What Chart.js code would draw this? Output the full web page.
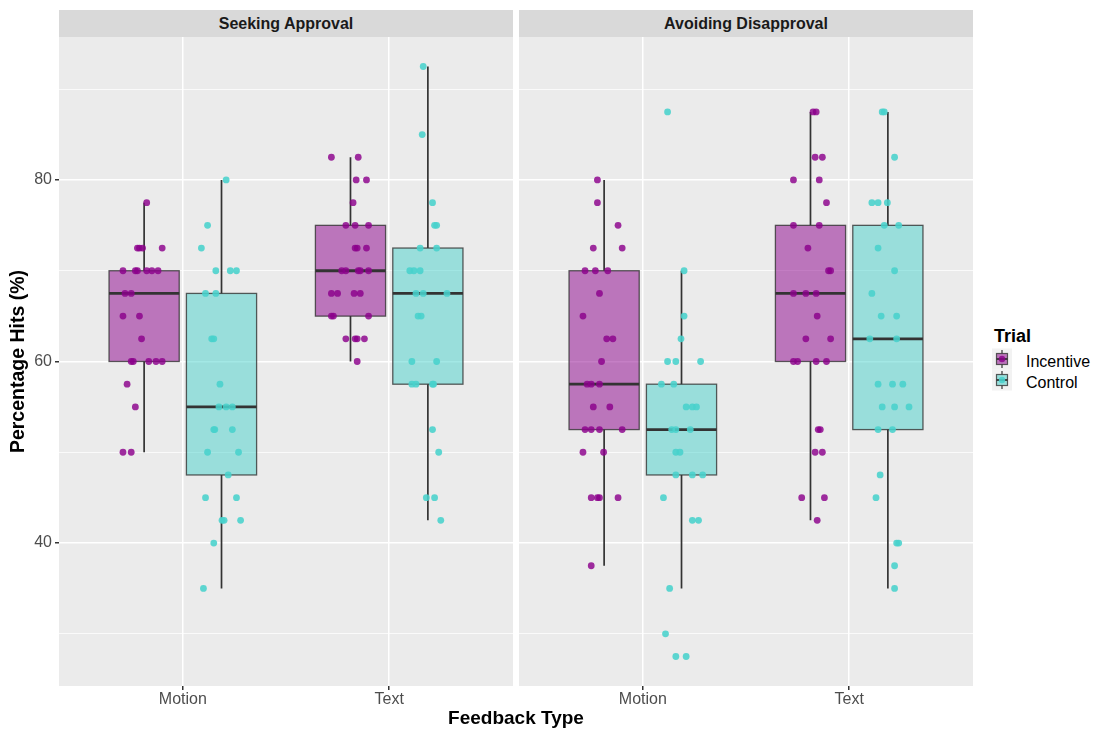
<!DOCTYPE html>
<html>
<head>
<meta charset="utf-8">
<title>Percentage Hits by Feedback Type</title>
<script src="https://cdn.jsdelivr.net/npm/chart.js@4.4.1/dist/chart.umd.min.js"></script>
<style>
  body { margin: 0; background: #fff; font-family: "Liberation Sans", Arial, sans-serif; }
  #wrap { position: relative; width: 1096px; height: 732px; overflow: hidden; }
  #wrap canvas { position: absolute; top: 0; }
  .strip { position: absolute; top: 10px; height: 27px; line-height: 27px; width: 454px;
           background: #D9D9D9; color: #1A1A1A; font-weight: bold; font-size: 16px; text-align: center; }
  .xtitle { position: absolute; left: 59px; width: 914px; top: 706px; height: 24px; line-height: 24px;
            text-align: center; font-weight: bold; font-size: 19px; color: #000; }
  .legend-title { position: absolute; left: 994px; top: 324px; height: 24px; line-height: 24px;
                  font-weight: bold; font-size: 18px; color: #000; }
  .legend-item { position: absolute; left: 1026px; height: 20px; line-height: 20px; font-size: 16px; color: #000; }
</style>
</head>
<body>
<div id="wrap">
  <div class="strip" id="strip0" style="left:59px"></div>
  <div class="strip" id="strip1" style="left:519px"></div>
  <canvas id="panelSeek" width="513" height="732" style="left:0"></canvas>
  <canvas id="panelAvoid" width="454" height="732" style="left:519px"></canvas>
  <div class="xtitle">Feedback Type</div>
  <div class="legend-title">Trial</div>
  <canvas id="legendKeys" width="30" height="60" style="left:989px; top:340px"></canvas>
  <div class="legend-item" id="leg0" style="top:352px"></div>
  <div class="legend-item" id="leg1" style="top:373px"></div>
</div>
<script>
const categories = ['Motion', 'Text'];
const panels = ['Seeking Approval', 'Avoiding Disapproval'];
const trials = ['Incentive', 'Control'];
const yMajorTicks = [40, 60, 80];
const yMinorTicks = [30, 50, 70, 90];
const yRange = [24.25, 95.75];

// box stats: [lower whisker, Q1, median, Q3, upper whisker]
const boxSeekMotionInc = [50, 60, 67.5, 70, 77.5];
const boxSeekMotionCtl = [35, 47.5, 55, 67.5, 80];
const boxSeekTextInc = [60, 65, 70, 75, 82.5];
const boxSeekTextCtl = [42.5, 57.5, 67.5, 72.5, 92.5];
const boxAvoidMotionInc = [37.5, 52.5, 57.5, 70, 80];
const boxAvoidMotionCtl = [35, 47.5, 52.5, 57.5, 70];
const boxAvoidTextInc = [42.5, 60, 67.5, 75, 87.5];
const boxAvoidTextCtl = [35, 52.5, 62.5, 75, 87.5];

// individual hit percentages
const hitsSeekMotionInc = [77.5, 72.5, 72.5, 72.5, 72.5, 70, 70, 70, 70, 70, 70, 67.5, 67.5, 65, 65, 62.5, 60, 60, 60, 60, 60, 57.5, 55, 50, 50];
const hitsSeekMotionCtl = [80, 75, 72.5, 70, 70, 70, 67.5, 67.5, 62.5, 62.5, 57.5, 55, 55, 55, 52.5, 52.5, 52.5, 50, 50, 47.5, 45, 45, 42.5, 42.5, 42.5, 40, 35];
const hitsSeekTextInc = [82.5, 82.5, 80, 80, 77.5, 75, 75, 75, 72.5, 72.5, 72.5, 70, 70, 70, 70, 70, 67.5, 67.5, 67.5, 67.5, 65, 65, 65, 62.5, 62.5, 62.5, 62.5, 60];
const hitsSeekTextCtl = [92.5, 85, 77.5, 75, 75, 72.5, 72.5, 70, 70, 70, 67.5, 67.5, 67.5, 65, 65, 60, 60, 57.5, 57.5, 57.5, 57.5, 52.5, 50, 45, 45, 42.5];
const hitsAvoidMotionInc = [80, 77.5, 75, 72.5, 72.5, 70, 70, 70, 67.5, 65, 62.5, 62.5, 60, 57.5, 57.5, 57.5, 55, 55, 52.5, 52.5, 52.5, 52.5, 50, 50, 45, 45, 45, 45, 37.5];
const hitsAvoidMotionCtl = [87.5, 70, 65, 62.5, 60, 60, 60, 57.5, 57.5, 55, 55, 55, 52.5, 52.5, 52.5, 50, 50, 47.5, 47.5, 47.5, 45, 42.5, 42.5, 35, 30, 27.5, 27.5];
const hitsAvoidTextInc = [87.5, 87.5, 82.5, 82.5, 80, 80, 77.5, 75, 75, 72.5, 70, 70, 67.5, 67.5, 67.5, 65, 62.5, 62.5, 60, 60, 60, 60, 52.5, 52.5, 50, 50, 45, 45, 42.5];
const hitsAvoidTextCtl = [87.5, 87.5, 82.5, 77.5, 77.5, 77.5, 75, 75, 72.5, 70, 67.5, 65, 65, 62.5, 62.5, 57.5, 57.5, 57.5, 55, 55, 55, 52.5, 52.5, 47.5, 45, 40, 40, 37.5, 35];

// horizontal jitter of each point (category units, from the category centre)
const jitSeekMotionInc = [-0.175, -0.22, -0.21, -0.195, -0.10, -0.29, -0.23, -0.22, -0.175, -0.15, -0.12, -0.28, -0.25, -0.29, -0.21, -0.20, -0.25, -0.24, -0.165, -0.13, -0.10, -0.27, -0.23, -0.29, -0.25];
const jitSeekMotionCtl = [0.21, 0.12, 0.09, 0.16, 0.23, 0.26, 0.11, 0.16, 0.14, 0.15, 0.18, 0.175, 0.21, 0.24, 0.15, 0.155, 0.24, 0.12, 0.27, 0.22, 0.11, 0.26, 0.19, 0.20, 0.28, 0.15, 0.10];
const jitSeekTextInc = [-0.28, -0.15, -0.16, -0.11, -0.175, -0.21, -0.165, -0.10, -0.165, -0.155, -0.11, -0.23, -0.21, -0.15, -0.14, -0.10, -0.28, -0.25, -0.17, -0.14, -0.28, -0.27, -0.10, -0.21, -0.165, -0.155, -0.12, -0.155];
const jitSeekTextCtl = [0.165, 0.16, 0.21, 0.22, 0.23, 0.15, 0.23, 0.10, 0.12, 0.15, 0.13, 0.165, 0.28, 0.14, 0.155, 0.11, 0.23, 0.11, 0.13, 0.21, 0.215, 0.21, 0.24, 0.18, 0.22, 0.25];
const jitAvoidMotionInc = [-0.22, -0.22, -0.12, -0.24, -0.10, -0.28, -0.23, -0.17, -0.21, -0.29, -0.175, -0.145, -0.20, -0.27, -0.25, -0.21, -0.24, -0.16, -0.28, -0.25, -0.21, -0.10, -0.29, -0.19, -0.25, -0.22, -0.21, -0.12, -0.25];
const jitAvoidMotionCtl = [0.12, 0.20, 0.20, 0.185, 0.12, 0.16, 0.28, 0.09, 0.15, 0.21, 0.24, 0.26, 0.14, 0.16, 0.23, 0.16, 0.18, 0.16, 0.24, 0.29, 0.10, 0.24, 0.27, 0.13, 0.11, 0.16, 0.21];
const jitAvoidTextInc = [-0.175, -0.16, -0.165, -0.13, -0.27, -0.145, -0.11, -0.27, -0.145, -0.20, -0.10, -0.09, -0.27, -0.21, -0.16, -0.155, -0.21, -0.09, -0.27, -0.25, -0.16, -0.11, -0.15, -0.14, -0.165, -0.13, -0.23, -0.12, -0.155];
const jitAvoidTextCtl = [0.16, 0.17, 0.22, 0.11, 0.14, 0.185, 0.17, 0.24, 0.14, 0.22, 0.11, 0.155, 0.23, 0.10, 0.23, 0.14, 0.21, 0.26, 0.16, 0.22, 0.29, 0.14, 0.21, 0.15, 0.13, 0.23, 0.24, 0.22, 0.22];

const trialFill = ['rgba(139, 0, 139, 0.5)', 'rgba(72, 209, 204, 0.5)'];
const trialPoint = ['rgba(139, 0, 139, 0.82)', 'rgba(72, 209, 204, 0.88)'];
const DODGE = 0.1875;
const BOX_W = 0.34;

const panelGroups = [
    [
        { cat: 1, trial: 0, box: boxSeekMotionInc, hits: hitsSeekMotionInc, jit: jitSeekMotionInc },
        { cat: 1, trial: 1, box: boxSeekMotionCtl, hits: hitsSeekMotionCtl, jit: jitSeekMotionCtl },
        { cat: 2, trial: 0, box: boxSeekTextInc, hits: hitsSeekTextInc, jit: jitSeekTextInc },
        { cat: 2, trial: 1, box: boxSeekTextCtl, hits: hitsSeekTextCtl, jit: jitSeekTextCtl }
    ],
    [
        { cat: 1, trial: 0, box: boxAvoidMotionInc, hits: hitsAvoidMotionInc, jit: jitAvoidMotionInc },
        { cat: 1, trial: 1, box: boxAvoidMotionCtl, hits: hitsAvoidMotionCtl, jit: jitAvoidMotionCtl },
        { cat: 2, trial: 0, box: boxAvoidTextInc, hits: hitsAvoidTextInc, jit: jitAvoidTextInc },
        { cat: 2, trial: 1, box: boxAvoidTextCtl, hits: hitsAvoidTextCtl, jit: jitAvoidTextCtl }
    ]
];

Chart.defaults.font.family = '"Liberation Sans", Arial, sans-serif';
Chart.defaults.animation = false;

const panelBackground = {
    id: 'panelBackground',
    beforeDraw(chart) {
        const { ctx, chartArea: a } = chart;
        ctx.save();
        ctx.fillStyle = '#EBEBEB';
        ctx.fillRect(a.left, a.top, a.right - a.left, a.bottom - a.top);
        ctx.restore();
    }
};

// boxes + whiskers, drawn under the jittered points
function makeBoxPlugin(groups) {
    return {
        id: 'boxPlot',
        beforeDatasetsDraw(chart) {
            const { ctx, scales: { x, y } } = chart;
            ctx.save();
            groups.forEach(g => {
                const cx = g.cat + (g.trial === 0 ? -DODGE : DODGE);
                const xl = x.getPixelForValue(cx - BOX_W / 2);
                const xr = x.getPixelForValue(cx + BOX_W / 2);
                const xc = x.getPixelForValue(cx);
                const [lo, q1, med, q3, hi] = g.box.map(v => y.getPixelForValue(v));

                ctx.strokeStyle = '#333333';
                ctx.lineWidth = 1.7;
                ctx.beginPath();
                ctx.moveTo(xc, lo); ctx.lineTo(xc, q1);
                ctx.moveTo(xc, q3); ctx.lineTo(xc, hi);
                ctx.stroke();

                ctx.fillStyle = trialFill[g.trial];
                ctx.fillRect(xl, q3, xr - xl, q1 - q3);
                ctx.strokeStyle = 'rgba(51, 51, 51, 0.8)';
                ctx.lineWidth = 1.3;
                ctx.strokeRect(xl, q3, xr - xl, q1 - q3);

                ctx.strokeStyle = '#333333';
                ctx.lineWidth = 2.8;
                ctx.beginPath();
                ctx.moveTo(xl, med); ctx.lineTo(xr, med);
                ctx.stroke();
            });
            ctx.restore();
        }
    };
}

const yAllTicks = [...yMajorTicks, ...yMinorTicks].sort((a, b) => a - b);
const isMajor = v => yMajorTicks.includes(v);

function makePanel(canvasId, panelIndex, withYAxis) {
    const groups = panelGroups[panelIndex];
    const datasets = trials.map((name, t) => ({
        label: name,
        data: groups.filter(g => g.trial === t)
            .flatMap(g => g.hits.map((v, i) => ({ x: g.cat + g.jit[i], y: v }))),
        backgroundColor: trialPoint[t],
        borderWidth: 0,
        pointRadius: 3.4
    }));

    return new Chart(document.getElementById(canvasId), {
        type: 'scatter',
        data: { datasets },
        options: {
            responsive: false,
            events: [],
            layout: { autoPadding: false, padding: { top: 37, right: 0, left: 0, bottom: 0 } },
            plugins: { legend: { display: false }, tooltip: { enabled: false } },
            scales: {
                x: {
                    type: 'linear',
                    min: 0.4,
                    max: 2.6,
                    afterBuildTicks: s => { s.ticks = [1, 2].map(v => ({ value: v })); },
                    afterFit: s => { s.height = 46; s.paddingLeft = 0; s.paddingRight = 0; },
                    border: { display: false },
                    grid: { color: '#FFFFFF', lineWidth: 1.5, tickColor: '#333333', tickLength: 4 },
                    ticks: {
                        padding: 0,
                        color: '#4D4D4D',
                        font: { size: 16 },
                        maxRotation: 0,
                        callback: v => categories[v - 1]
                    }
                },
                y: {
                    min: yRange[0],
                    max: yRange[1],
                    afterBuildTicks: s => { s.ticks = yAllTicks.map(v => ({ value: v })); },
                    afterFit: s => { s.width = withYAxis ? 59 : 0; s.paddingTop = 0; s.paddingBottom = 0; },
                    border: { display: false },
                    grid: {
                        color: '#FFFFFF',
                        lineWidth: c => (c.tick && isMajor(c.tick.value)) ? 1.5 : 0.75,
                        drawTicks: withYAxis,
                        tickLength: 4,
                        tickColor: c => (c.tick && isMajor(c.tick.value)) ? '#333333' : 'rgba(0,0,0,0)'
                    },
                    ticks: {
                        display: withYAxis,
                        padding: 3,
                        color: '#4D4D4D',
                        font: { size: 16 },
                        callback: v => isMajor(v) ? String(v) : ''
                    },
                    title: {
                        display: withYAxis,
                        text: 'Percentage Hits (%)',
                        color: '#000000',
                        font: { size: 19.5, weight: 'bold' },
                        padding: { top: 7, bottom: 0 }
                    }
                }
            }
        },
        plugins: [panelBackground, makeBoxPlugin(groups)]
    });
}

function drawLegendKeys() {
    const ctx = document.getElementById('legendKeys').getContext('2d');
    const centers = [19, 40];
    trials.forEach((name, t) => {
        const cy = centers[t];
        ctx.fillStyle = '#F2F2F2';
        ctx.fillRect(3, cy - 10.5, 20, 21);
        ctx.strokeStyle = '#333333';
        ctx.lineWidth = 1.2;
        ctx.beginPath();
        ctx.moveTo(13, cy - 9); ctx.lineTo(13, cy + 9);
        ctx.stroke();
        ctx.fillStyle = '#EBEBEB';
        ctx.fillRect(7.5, cy - 5.5, 11, 11);
        ctx.fillStyle = trialFill[t];
        ctx.fillRect(7.5, cy - 5.5, 11, 11);
        ctx.strokeStyle = 'rgba(51, 51, 51, 0.8)';
        ctx.strokeRect(7.5, cy - 5.5, 11, 11);
        ctx.strokeStyle = '#333333';
        ctx.lineWidth = 1.8;
        ctx.beginPath();
        ctx.moveTo(7.5, cy); ctx.lineTo(18.5, cy);
        ctx.stroke();
        ctx.fillStyle = trialPoint[t];
        ctx.beginPath();
        ctx.arc(13, cy, 3.2, 0, Math.PI * 2);
        ctx.fill();
        document.getElementById('leg' + t).textContent = name;
    });
}

document.getElementById('strip0').textContent = panels[0];
document.getElementById('strip1').textContent = panels[1];
makePanel('panelSeek', 0, true);
makePanel('panelAvoid', 1, false);
drawLegendKeys();
</script>
</body>
</html>
